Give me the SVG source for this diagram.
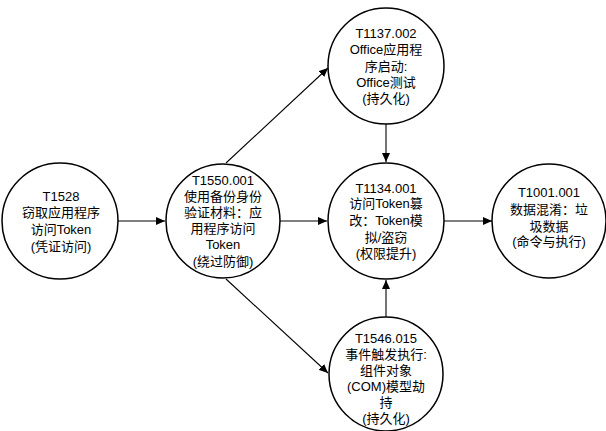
<svg xmlns="http://www.w3.org/2000/svg" width="606" height="431" viewBox="0 0 606 431">
<defs>
<style>
.node circle{fill:#fff;stroke:#000;stroke-width:1.5}
.node text{font-family:"Liberation Sans","Noto Sans CJK SC",sans-serif;font-size:13px;fill:#000;text-anchor:middle}
.edge{stroke:#000;stroke-width:1.1;fill:none;marker-end:url(#arr)}
</style>
<marker id="arr" markerUnits="userSpaceOnUse" markerWidth="9" markerHeight="8" refX="9" refY="4" orient="auto">
<path d="M0,0 L9,4 L0,8 z" fill="#000"/>
</marker>
</defs>
<rect width="606" height="431" fill="#fff"/>
<g id="connectors">
<path class="edge" d="M118,221 L165,221"/>
<path class="edge" d="M226,163 L328,68"/>
<path class="edge" d="M226,279 L328,373"/>
<path class="edge" d="M280,221 L327,221"/>
<path class="edge" d="M386,124 L386,162"/>
<path class="edge" d="M386,317 L386,280"/>
<path class="edge" d="M444,221 L492,221"/>
</g>
<g id="n1" class="node">
<circle cx="60" cy="221" r="58"/>
<text x="61" y="201">T1528</text>
<text x="61" y="217">窃取应用程序</text>
<text x="61" y="234">访问Token</text>
<text x="61" y="251">(凭证访问)</text>
</g>
<g id="n2" class="node">
<circle cx="223" cy="221" r="57"/>
<text x="223" y="185">T1550.001</text>
<text x="223" y="201">使用备份身份</text>
<text x="223" y="217">验证材料：应</text>
<text x="223" y="233">用程序访问</text>
<text x="223" y="249">Token</text>
<text x="223" y="266">(绕过防御)</text>
</g>
<g id="n3" class="node">
<circle cx="386" cy="66" r="58"/>
<text x="386" y="38">T1137.002</text>
<text x="386" y="54">Office应用程</text>
<text x="386" y="71">序启动:</text>
<text x="386" y="87">Office测试</text>
<text x="386" y="103">(持久化)</text>
</g>
<g id="n4" class="node">
<circle cx="386" cy="221" r="58"/>
<text x="386" y="193">T1134.001</text>
<text x="386" y="208">访问Token篡</text>
<text x="386" y="225">改：Token模</text>
<text x="386" y="242">拟/盗窃</text>
<text x="386" y="258">(权限提升)</text>
</g>
<g id="n5" class="node">
<circle cx="386" cy="374" r="57"/>
<text x="386" y="343">T1546.015</text>
<text x="386" y="359">事件触发执行:</text>
<text x="386" y="375">组件对象</text>
<text x="386" y="391">(COM)模型劫</text>
<text x="386" y="407">持</text>
<text x="386" y="423">(持久化)</text>
</g>
<g id="n6" class="node">
<circle cx="549" cy="221" r="57"/>
<text x="549" y="197">T1001.001</text>
<text x="549" y="214">数据混淆：垃</text>
<text x="549" y="231">圾数据</text>
<text x="549" y="246">(命令与执行)</text>
</g>
</svg>
